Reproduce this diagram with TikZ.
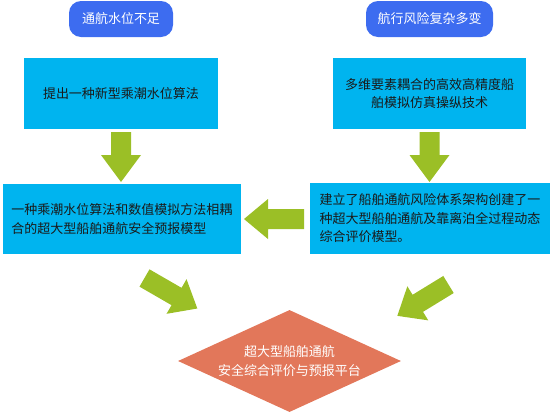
\documentclass[tikz,border=0pt]{standalone}
\usepackage{fontspec}
\setmainfont{Noto Sans CJK SC}
\usetikzlibrary{shapes.geometric}
\definecolor{pillblue}{HTML}{3D6CF0}
\definecolor{boxcyan}{HTML}{00B4EF}
\definecolor{arrowgreen}{HTML}{9BBF26}
\definecolor{diamondred}{HTML}{E2775A}
\definecolor{boxtext}{HTML}{1A1A1A}

\begin{document}
\begin{tikzpicture}[x=1pt, y=-1pt,
problem/.style={fill=pillblue, text=white, rounded corners=12pt, minimum height=36pt, inner sep=0pt, font=\fontsize{13pt}{18pt}\selectfont},
result/.style={fill=boxcyan, text=boxtext, inner sep=0pt, minimum height=71pt, font=\fontsize{13pt}{18.5pt}\selectfont},
platform/.style={diamond, aspect=2.2, fill=diamondred, text=white, inner sep=0pt, minimum width=223pt, minimum height=102pt, align=center, font=\fontsize{13pt}{19pt}\selectfont},
pics/fatarrow/.style 2 args={code={\fill[arrowgreen] (0,-10) -- (#1-#2,-10) -- (#1-#2,-20) -- (#1,0) -- (#1-#2,20) -- (#1-#2,10) -- (0,10) -- cycle;}}]
\useasboundingbox (0,0) rectangle (550,413);

\node[problem, minimum width=104pt](need1) at (121,19){通航水位不足};
\node[problem, minimum width=127pt](need2) at (429.5,19){航行风险复杂多变};

\node[result, minimum width=194pt](tide) at (121,93.5){提出一种新型乘潮水位算法};
\node[result, minimum width=193pt, align=center](sim) at (429.5,93.5){多维要素耦合的高效高精度船\\舶模拟仿真操纵技术};
\node[result, minimum width=238pt, minimum height=70pt, align=left](forecast) at (122,219){一种乘潮水位算法和数值模拟方法相耦\\合的超大型船舶通航安全预报模型};
\node[result, minimum width=240pt, align=left](assess) at (430,218.5){建立了船舶通航风险体系架构创建了一\\种超大型船舶通航及靠离泊全过程动态\\综合评价模型。};

\node[platform](platform) at (289.5,361){超大型船舶通航\\安全综合评价与预报平台};

% block arrows
\pic[rotate=-90] at (121,132) {fatarrow={50}{27}};
\pic[rotate=-90] at (429.5,132) {fatarrow={50}{27}};
\pic[rotate=180] at (304,219) {fatarrow={60}{24}};
\pic[rotate=-30] at (144.5,278) {fatarrow={61}{24}};
\pic[rotate=-148.5] at (448.5,284.5) {fatarrow={60}{24}};
\end{tikzpicture}
\end{document}
